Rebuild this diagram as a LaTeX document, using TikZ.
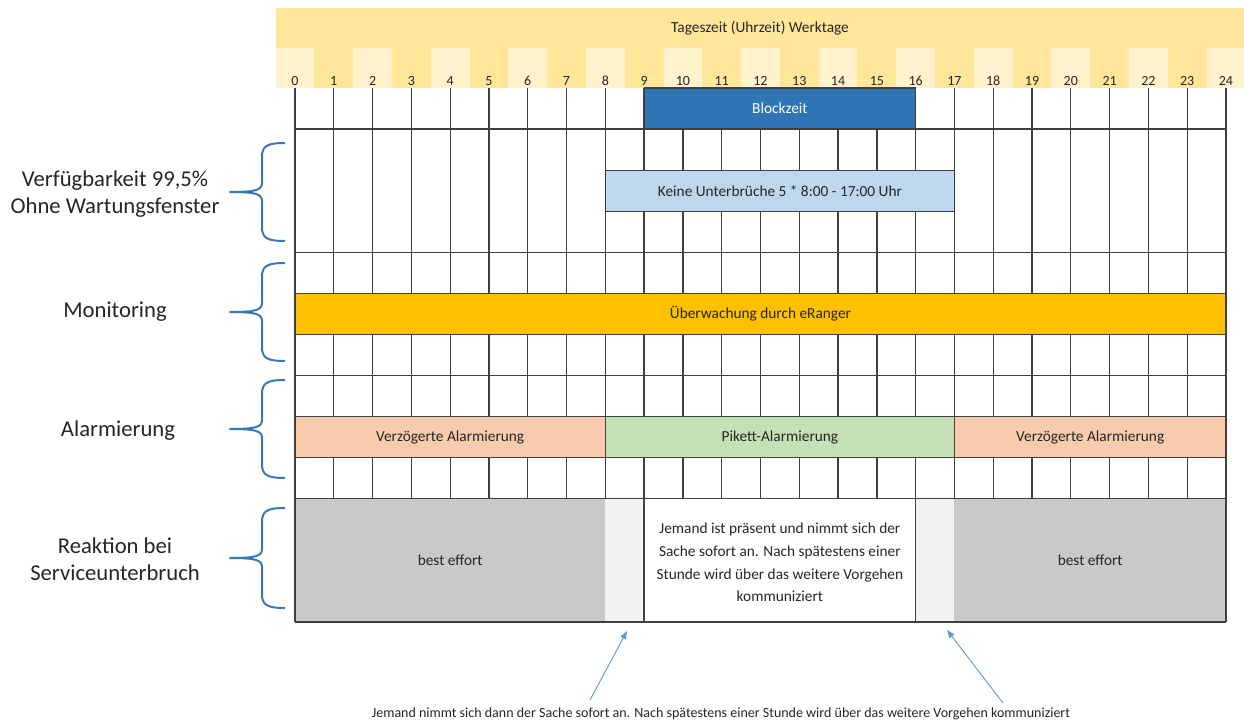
\documentclass[tikz,border=0pt]{standalone}
\usepackage{fontspec}
\setmainfont{Carlito}
\usetikzlibrary{arrows.meta,calc}
\definecolor{kopf}{HTML}{FFE699}
\definecolor{kopfh}{HTML}{FFF2CC}
\definecolor{blau}{HTML}{2E75B6}
\definecolor{hblau}{HTML}{BDD7EE}
\definecolor{gold}{HTML}{FFC000}
\definecolor{lachs}{HTML}{F8CBAD}
\definecolor{gruen}{HTML}{C5E0B4}
\definecolor{grau}{HTML}{C9C9C9}
\definecolor{hgrau}{HTML}{F2F2F2}
\definecolor{linie}{HTML}{404040}
\definecolor{tinte}{HTML}{262626}
\definecolor{kblau}{HTML}{3A78B5}
\definecolor{pblau}{HTML}{5B9BD5}
\newcommand{\hx}[1]{295+38.79*(#1)}
\newcommand{\hm}[2]{295+38.79*((#1)+(#2))/2}
\newcommand{\ry}[1]{88+41.08*(#1)}
\newcommand{\balken}[6]{%
  \draw[balken,fill=#4] ({\hx{#1}},{\ry{#3}}) rectangle ({\hx{#2}},{\ry{#3+1}});
  \node[zelltext] (#5) at ({\hm{#1}{#2}},{\ry{#3+0.5}}) {#6};}
\newcommand{\klammer}[2]{%
  \draw[klammer] (285,#1) .. controls (267,#1) and (262,{#1+3}) .. (262,{#1+14})
    -- (262,{(#1+#2)/2-9}) .. controls (262,{(#1+#2)/2-2}) and (256,{(#1+#2)/2}) .. (230,{(#1+#2)/2})
    .. controls (256,{(#1+#2)/2}) and (262,{(#1+#2)/2+2}) .. (262,{(#1+#2)/2+9})
    -- (262,{#2-14}) .. controls (262,{#2-3}) and (267,#2) .. (285,#2);}

\begin{document}
\begin{tikzpicture}[x=0.75pt,y=-0.75pt,
  raster/.style={draw=linie,line width=1pt},
  balken/.style={draw=linie,line width=0.9pt},
  zelltext/.style={text=tinte,font=\fontsize{11.5}{17}\selectfont,align=center,inner sep=0pt},
  kopftext/.style={text=tinte,font=\fontsize{10.5}{12}\selectfont,inner sep=0pt},
  seite/.style={text=tinte,font=\fontsize{17}{20}\selectfont,align=center,inner sep=0pt},
  klammer/.style={draw=kblau,line width=1.5pt,line join=round},
  pfeil/.style={draw=pblau,line width=0.7pt,-{Triangle[length=6pt,width=4.5pt]}}]
  \useasboundingbox (0,0) rectangle (1244,724);
  % kopf
  \fill[kopf] (276,8) rectangle (1244,88);
  \foreach \k in {0,2,...,24} \fill[kopfh] ({\hx{\k}-19.4},48) rectangle ({\hx{\k}+19.4},88);
  \node[kopftext,font=\fontsize{11.5}{12}\selectfont] (titel) at (760,28) {Tageszeit (Uhrzeit) Werktage};
  \foreach \k in {0,...,24} \node[kopftext] (h\k) at ({\hx{\k}},81) {\k};
  % reaktion
  \fill[grau] ({\hx{0}},{\ry{10}}) rectangle ({\hx{8}},{\ry{13}});
  \fill[hgrau] ({\hx{8}},{\ry{10}}) rectangle ({\hx{9}},{\ry{13}});
  \fill[hgrau] ({\hx{16}},{\ry{10}}) rectangle ({\hx{17}},{\ry{13}});
  \fill[grau] ({\hx{17}},{\ry{10}}) rectangle ({\hx{24}},{\ry{13}});
  % raster
  \foreach \k in {0,...,24} \draw[raster] ({\hx{\k}},{\ry{0}}) -- ({\hx{\k}},{\ry{10}});
  \foreach \k in {0,9,16,24} \draw[raster] ({\hx{\k}},{\ry{10}}) -- ({\hx{\k}},{\ry{13}});
  \foreach \r in {1,4,7,10,13} \draw[raster] ({\hx{0}},{\ry{\r}}) -- ({\hx{24}},{\ry{\r}});
  % balken
  \balken{9}{16}{0}{blau}{block}{\textcolor{white}{Blockzeit}}
  \balken{8}{17}{2}{hblau}{keine}{Keine Unterbrüche 5 * 8:00 - 17:00 Uhr}
  \balken{0}{24}{5}{gold}{ueberw}{Überwachung durch eRanger}
  \balken{0}{8}{8}{lachs}{verzA}{Verzögerte Alarmierung}
  \balken{8}{17}{8}{gruen}{pikett}{Pikett-Alarmierung}
  \balken{17}{24}{8}{lachs}{verzB}{Verzögerte Alarmierung}
  \node[zelltext] (bestA) at ({\hm{0}{8}},{\ry{11.5}}) {best effort};
  \node[zelltext] (bestB) at ({\hm{17}{24}},{\ry{11.5}}) {best effort};
  \node[zelltext] (jemand) at ({\hm{9}{16}},{\ry{11.55}}) {Jemand ist präsent und nimmt sich der\\Sache sofort an. Nach spätestens einer\\Stunde wird über das weitere Vorgehen\\kommuniziert};
  % seiten
  \node[seite] (verf) at (115,194) {Verfügbarkeit 99,5\%\\Ohne Wartungsfenster};
  \node[seite] (monit) at (115,312) {Monitoring};
  \node[seite] (alarm) at (118,431) {Alarmierung};
  \node[seite] (reakt) at (115,559) {Reaktion bei\\Serviceunterbruch};
  \klammer{143}{241}
  \klammer{263}{361}
  \klammer{380}{478}
  \klammer{508}{608}
  % hinweis
  \node[kopftext] (hinweis) at (721,714) {Jemand nimmt sich dann der Sache sofort an. Nach spätestens einer Stunde wird über das weitere Vorgehen kommuniziert};
  \coordinate (pA) at (590,700);
  \coordinate (zA) at (627,631);
  \coordinate (pB) at (1003,703);
  \coordinate (zB) at (947,630);
  \draw[pfeil] (pA) -- (zA);
  \draw[pfeil] (pB) -- (zB);
\end{tikzpicture}
\end{document}
